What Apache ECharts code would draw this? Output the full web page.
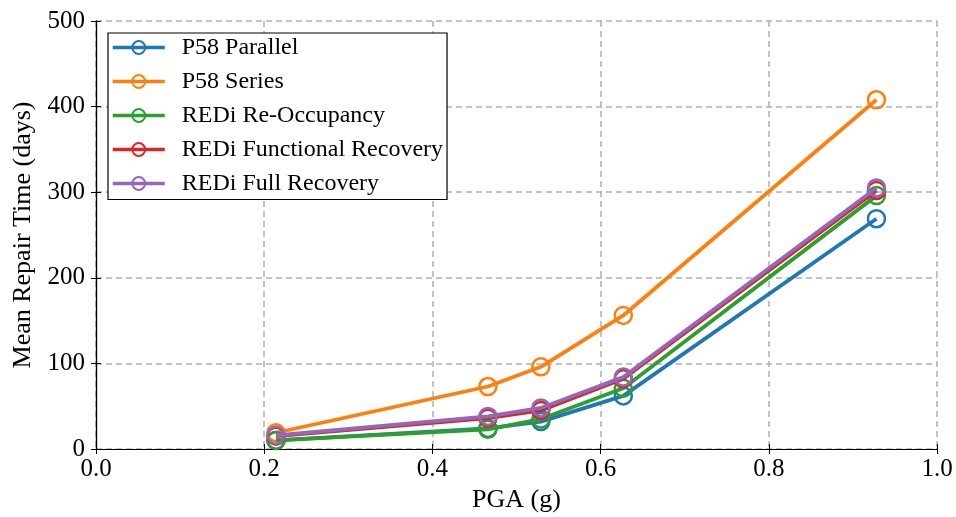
<!DOCTYPE html>
<html><head><meta charset="utf-8">
<script src="https://cdn.jsdelivr.net/npm/echarts@6/dist/echarts.min.js"></script>
<style>html,body{margin:0;padding:0;background:#fff}#c{width:956px;height:517px}</style>
</head><body><div id="c"></div>
<script>
const pga = [0.214, 0.466, 0.529, 0.627, 0.928];
const p58Parallel = [10, 24, 32, 62, 269];
const p58Series = [19, 73, 96, 156, 408];
const rediReOccupancy = [10, 23, 35, 71, 296];
const rediFunctional = [15, 36, 45, 82, 302];
const rediFull = [16, 38, 48, 84, 305];
const seriesNames = ['P58 Parallel', 'P58 Series', 'REDi Re-Occupancy', 'REDi Functional Recovery', 'REDi Full Recovery'];
const seriesValues = [p58Parallel, p58Series, rediReOccupancy, rediFunctional, rediFull];
const colors = ['#1f77b4', '#ff7f0e', '#2ca02c', '#d62728', '#9467bd'];

const FONT = 'Liberation Serif';
const chart = echarts.init(document.getElementById('c'), null, {renderer: 'canvas'});
const gridLine = {show: true, lineStyle: {color: '#b0b0b0', type: [6, 4], width: 1.5}};
const axisLineStyle = {show: true, lineStyle: {color: '#000', width: 1.2}};
const tickIn = {show: true, inside: true, length: 5, lineStyle: {color: '#000', width: 1}};

chart.setOption({
  animation: false,
  color: colors,
  grid: {left: 96, right: 19, top: 21, bottom: 68, containLabel: false, outerBoundsMode: 'none'},
  legend: {
    orient: 'vertical', left: 108, top: 33,
    backgroundColor: '#fff', borderColor: '#000', borderWidth: 1.2, borderRadius: 0,
    padding: [2.5, 4, 4, 3],
    itemWidth: 52, itemHeight: 16, itemGap: 10,
    lineStyle: {width: 3.5},
    textStyle: {fontFamily: FONT, fontSize: 24, color: '#000', lineHeight: 24, padding: [0, 0, 0, 12]},
    data: seriesNames
  },
  xAxis: [{
    type: 'value', min: 0, max: 1, interval: 0.2,
    name: 'PGA (g)', nameLocation: 'middle', nameGap: 36,
    nameTextStyle: {fontFamily: FONT, fontSize: 26, color: '#000'},
    axisLine: axisLineStyle, axisTick: tickIn, splitLine: gridLine,
    axisLabel: {fontFamily: FONT, fontSize: 25, color: '#000', margin: 8, formatter: v => v.toFixed(1)}
  }, {
    type: 'value', min: 0, max: 1, interval: 0.2, position: 'top',
    axisLine: axisLineStyle, axisTick: tickIn, splitLine: {show: false}, axisLabel: {show: false}
  }],
  yAxis: [{
    type: 'value', min: 0, max: 500, interval: 100,
    name: 'Mean Repair Time (days)', nameLocation: 'middle', nameGap: 57,
    nameTextStyle: {fontFamily: FONT, fontSize: 26, color: '#000'},
    axisLine: axisLineStyle, axisTick: tickIn, splitLine: gridLine,
    axisLabel: {fontFamily: FONT, fontSize: 25, color: '#000', margin: 11}
  }, {
    type: 'value', min: 0, max: 500, interval: 100, position: 'right',
    axisLine: axisLineStyle, axisTick: tickIn, splitLine: {show: false}, axisLabel: {show: false}
  }],
  series: seriesNames.map((n, i) => ({
    name: n, type: 'line',
    data: pga.map((x, j) => [x, seriesValues[i][j]]),
    symbol: 'circle', symbolSize: 17,
    lineStyle: {width: 3.8, color: colors[i]},
    itemStyle: {color: 'rgba(0,0,0,0)', borderColor: colors[i], borderWidth: 2.5},
    z: 2 + i
  }))
});
</script></body></html>
